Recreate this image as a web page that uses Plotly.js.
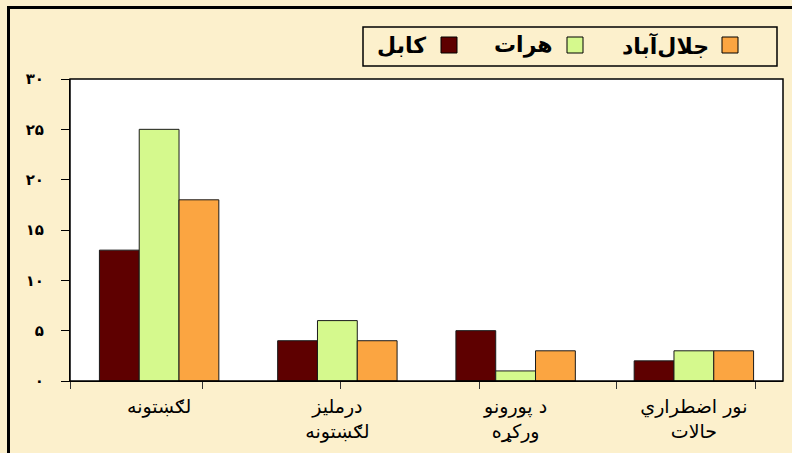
<!DOCTYPE html>
<html><head><meta charset="utf-8">
<script src="https://cdn.plot.ly/plotly-3.0.1.min.js"></script>
<style>
html,body{margin:0;padding:0;background:#FCF0CC;overflow:hidden;}
#chart{position:absolute;left:0;top:0;width:792px;height:453px;}
.bt{position:absolute;left:7px;top:6px;width:785px;height:3px;background:#000;}
.bl{position:absolute;left:7px;top:6px;width:3px;height:447px;background:#000;}
</style></head>
<body>
<div id="chart"></div>
<div class="bt"></div><div class="bl"></div>
<script>
// Data
const categories = ["لګښتونه", "درملیز<br>لګښتونه", "د پورونو<br>ورکړه", "نور اضطراري<br>حالات"];
const seriesNames = ["کابل", "هرات", "جلال‌آباد"];
const kabul = [13, 4, 5, 2];
const herat = [25, 6, 1, 3];
const jalalabad = [18, 4, 3, 3];
const yTickVals = [0, 5, 10, 15, 20, 25, 30];
const yTickText = ["۰", "۵", "۱۰", "۱۵", "۲۰", "۲۵", "۳۰"];

const colors = ["#5E0000", "#D5F98D", "#FBA541"];
const seriesValues = [kabul, herat, jalalabad];

const traces = seriesValues.map((v, i) => ({
  type: "bar", x: categories, y: v, name: seriesNames[i],
  marker: {color: colors[i], line: {color: "#1a1a1a", width: 1}},
  showlegend: false, hoverinfo: "none"
}));
// decorative tick axis
traces.push({type:"scatter", x:[0], y:[0], xaxis:"x2", yaxis:"y", mode:"none", showlegend:false, hoverinfo:"none"});

// manual legend (swatch to the right of text, RTL)
const legSwatchX = [449, 575, 730]; // pixel centres
const legTextRight = [428, 555, 711];
const W = 792, H = 453, L = 70, R = 9, T = 79, B = 72;
const pw = W - L - R, ph = H - T - B;
const px = x => (x - L) / pw;
const py = y => (H - B - y) / ph;

const shapes = [
  {type:"rect", xref:"paper", yref:"paper", x0:px(363), x1:px(777), y0:py(66), y1:py(27),
   line:{color:"#000", width:1.5}, fillcolor:"rgba(0,0,0,0)"},
  {type:"rect", xref:"paper", yref:"paper", x0:0, x1:1, y0:0, y1:1, line:{color:"#000", width:1.5}, fillcolor:"rgba(0,0,0,0)"}
];
const annotations = [];
seriesNames.forEach((n, i) => {
  shapes.push({type:"rect", xref:"paper", yref:"paper", x0:px(legSwatchX[i]-8), x1:px(legSwatchX[i]+8),
    y0:py(53), y1:py(37), fillcolor:colors[i], line:{color:"#000", width:1}});
  annotations.push({xref:"paper", yref:"paper", x:px(legTextRight[i]), y:py(45), xanchor:"right", yanchor:"middle",
    text:n, showarrow:false, font:{family:"DejaVu Sans", size:22, color:"#000", weight:"bold"}});
});

const layout = {
  width: W, height: H,
  margin: {l: L, r: R, t: T, b: B, pad: 0},
  paper_bgcolor: "#FCF0CC", plot_bgcolor: "#FFFFFF",
  barmode: "group", bargap: 0.33, bargroupgap: 0,
  showlegend: false,
  xaxis: {type:"category", showgrid:false, ticks:"", showline:true, linecolor:"#000", linewidth:1,
    ticklabelstandoff:8,
    tickfont:{family:"DejaVu Sans", size:19, color:"#000"}, fixedrange:true},
  xaxis2: {overlaying:"x", anchor:"y", range:[0,1], showgrid:false, zeroline:false, showline:false,
    showticklabels:false, ticks:"outside", ticklen:7, tickcolor:"#333", tickwidth:1,
    tickvals:[0, 0.1865, 0.3787, 0.575, 0.767, 0.961]},
  yaxis: {range:[0, 30], tickvals:yTickVals, ticktext:yTickText, ticks:"outside", ticklen:8, tickcolor:"#000",
    showgrid:false, zeroline:false, showline:true, linecolor:"#000", linewidth:1, ticklabelstandoff:14,
    tickfont:{family:"DejaVu Sans", size:15, color:"#000", weight:"bold"}, fixedrange:true},
  shapes: shapes, annotations: annotations
};
Plotly.newPlot("chart", traces, layout, {staticPlot:true});
</script>
</body></html>
